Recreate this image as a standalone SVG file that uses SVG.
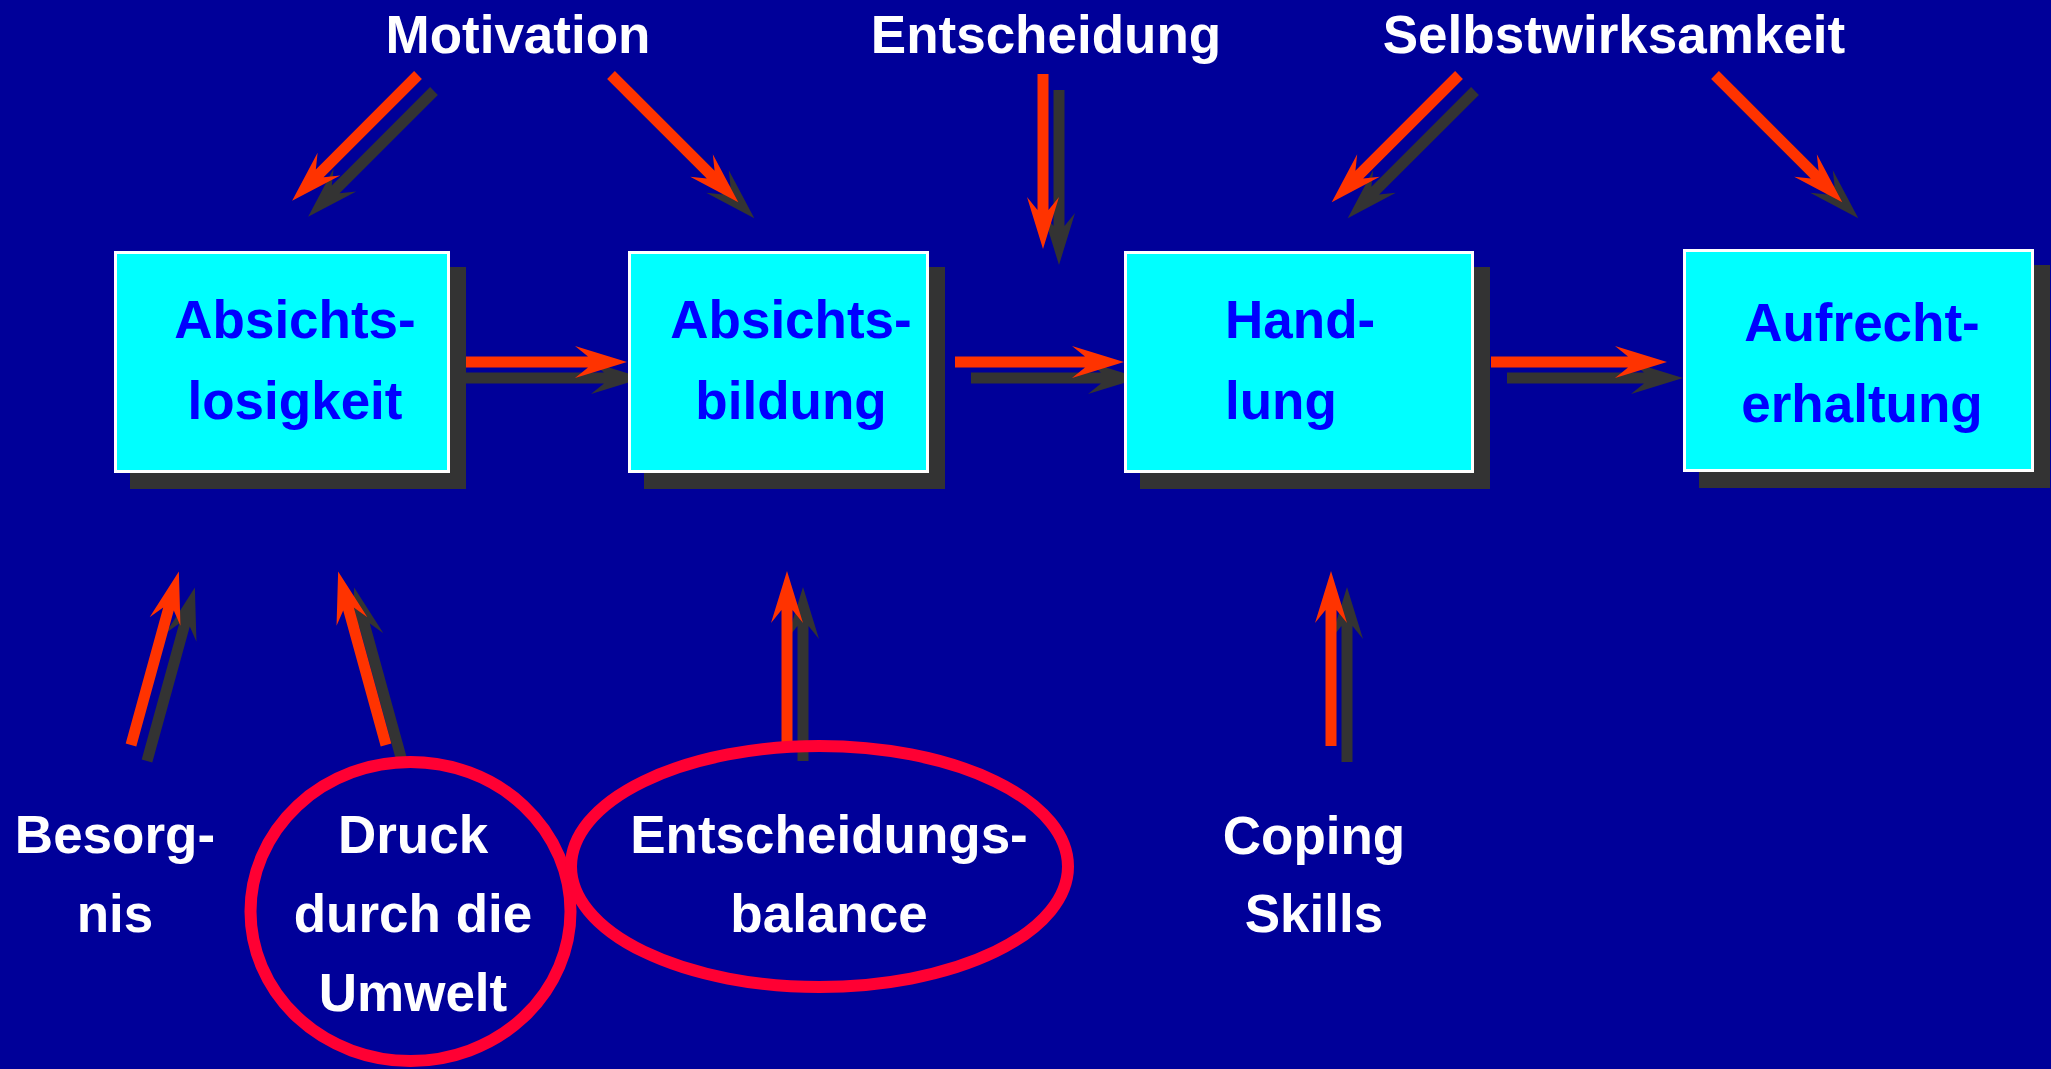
<svg xmlns="http://www.w3.org/2000/svg" width="2051" height="1069" viewBox="0 0 2051 1069">
<style>
.bg{fill:#000099}
.ar{fill:#FF3300}
.sh{fill:#333333}
.box{fill:#00FFFF;stroke:#FFFFFF;stroke-width:3}
.bsh{fill:#333333}
.bt{font-family:"Liberation Sans",Arial,sans-serif;font-weight:bold;font-size:53px;fill:#0000FF}
.wt{font-family:"Liberation Sans",Arial,sans-serif;font-weight:bold;font-size:53px;fill:#FFFFFF;text-anchor:middle}
.ell{fill:none;stroke:#FF0033;stroke-width:12}
</style>
<rect class="bg" x="0" y="0" width="2051" height="1069"/>

<g id="connectors">
  <g class="sh">
    <polygon transform="translate(434,91) rotate(135)" points="0,-5.5 139,-5.5 126,-16 178,0 126,16 139,5.5 0,5.5"/>
    <polygon transform="translate(627,91) rotate(45)" points="0,-5.5 141,-5.5 128,-16 180,0 128,16 141,5.5 0,5.5"/>
    <polygon transform="translate(1059,90) rotate(90)" points="0,-5.5 136,-5.5 123,-16 175,0 123,16 136,5.5 0,5.5"/>
    <polygon transform="translate(1475,91) rotate(135)" points="0,-5.5 141,-5.5 128,-16 180,0 128,16 141,5.5 0,5.5"/>
    <polygon transform="translate(1731,91) rotate(45)" points="0,-5.5 141,-5.5 128,-16 180,0 128,16 141,5.5 0,5.5"/>
    <polygon transform="translate(466,378)" points="0,-5.5 138,-5.5 125,-16 177,0 125,16 138,5.5 0,5.5"/>
    <polygon transform="translate(971,378)" points="0,-5.5 130,-5.5 117,-16 169,0 117,16 130,5.5 0,5.5"/>
    <polygon transform="translate(1507,378)" points="0,-5.5 137,-5.5 124,-16 176,0 124,16 137,5.5 0,5.5"/>
    <polygon transform="translate(147,761) rotate(-74.58)" points="0,-5.5 141,-5.5 128,-16 180,0 128,16 141,5.5 0,5.5"/>
    <polygon transform="translate(402,761) rotate(-105.42)" points="0,-5.5 141,-5.5 128,-16 180,0 128,16 141,5.5 0,5.5"/>
    <polygon transform="translate(803,761) rotate(-90)" points="0,-5.5 135,-5.5 122,-16 174,0 122,16 135,5.5 0,5.5"/>
    <polygon transform="translate(1347,762) rotate(-90)" points="0,-5.5 136,-5.5 123,-16 175,0 123,16 136,5.5 0,5.5"/>
  </g>
  <g class="ar">
    <polygon transform="translate(418,75) rotate(135)" points="0,-5.5 139,-5.5 126,-16 178,0 126,16 139,5.5 0,5.5"/>
    <polygon transform="translate(611,75) rotate(45)" points="0,-5.5 141,-5.5 128,-16 180,0 128,16 141,5.5 0,5.5"/>
    <polygon transform="translate(1043,74) rotate(90)" points="0,-5.5 136,-5.5 123,-16 175,0 123,16 136,5.5 0,5.5"/>
    <polygon transform="translate(1459,75) rotate(135)" points="0,-5.5 141,-5.5 128,-16 180,0 128,16 141,5.5 0,5.5"/>
    <polygon transform="translate(1715,75) rotate(45)" points="0,-5.5 141,-5.5 128,-16 180,0 128,16 141,5.5 0,5.5"/>
    <polygon transform="translate(450,362)" points="0,-5.5 138,-5.5 125,-16 177,0 125,16 138,5.5 0,5.5"/>
    <polygon transform="translate(955,362)" points="0,-5.5 130,-5.5 117,-16 169,0 117,16 130,5.5 0,5.5"/>
    <polygon transform="translate(1491,362)" points="0,-5.5 137,-5.5 124,-16 176,0 124,16 137,5.5 0,5.5"/>
    <polygon transform="translate(131,745) rotate(-74.58)" points="0,-5.5 141,-5.5 128,-16 180,0 128,16 141,5.5 0,5.5"/>
    <polygon transform="translate(386,745) rotate(-105.42)" points="0,-5.5 141,-5.5 128,-16 180,0 128,16 141,5.5 0,5.5"/>
    <polygon transform="translate(787,745) rotate(-90)" points="0,-5.5 135,-5.5 122,-16 174,0 122,16 135,5.5 0,5.5"/>
    <polygon transform="translate(1331,746) rotate(-90)" points="0,-5.5 136,-5.5 123,-16 175,0 123,16 136,5.5 0,5.5"/>
  </g>
</g>

<g id="node-absichtslosigkeit">
  <rect class="bsh" x="130" y="267" width="336" height="222"/>
  <rect class="box" x="115.5" y="252.5" width="333" height="219"/>
  <text class="bt" x="295" y="338" text-anchor="middle">Absichts-</text>
  <text class="bt" x="295" y="419" text-anchor="middle">losigkeit</text>
</g>
<g id="node-absichtsbildung">
  <rect class="bsh" x="644" y="267" width="301" height="222"/>
  <rect class="box" x="629.5" y="252.5" width="298" height="219"/>
  <text class="bt" x="791" y="338" text-anchor="middle">Absichts-</text>
  <text class="bt" x="791" y="419" text-anchor="middle">bildung</text>
</g>
<g id="node-handlung">
  <rect class="bsh" x="1140" y="267" width="350" height="222"/>
  <rect class="box" x="1125.5" y="252.5" width="347" height="219"/>
  <text class="bt" x="1225" y="338">Hand-</text>
  <text class="bt" x="1225" y="419">lung</text>
</g>
<g id="node-aufrechterhaltung">
  <rect class="bsh" x="1699" y="265" width="351" height="223"/>
  <rect class="box" x="1684.5" y="250.5" width="348" height="220"/>
  <text class="bt" x="1862" y="341" text-anchor="middle">Aufrecht-</text>
  <text class="bt" x="1862" y="422" text-anchor="middle">erhaltung</text>
</g>

<g id="label-motivation"><text class="wt" x="518" y="53">Motivation</text></g>
<g id="label-entscheidung"><text class="wt" x="1046" y="53">Entscheidung</text></g>
<g id="label-selbstwirksamkeit"><text class="wt" x="1614" y="53">Selbstwirksamkeit</text></g>

<g id="node-besorgnis">
  <text class="wt" x="115" y="853">Besorg-</text>
  <text class="wt" x="115" y="932">nis</text>
</g>
<g id="node-druck">
  <ellipse class="ell" cx="410.5" cy="911.5" rx="160" ry="149.5"/>
  <text class="wt" x="413" y="853">Druck</text>
  <text class="wt" x="413" y="932">durch die</text>
  <text class="wt" x="413" y="1011">Umwelt</text>
</g>
<g id="node-entscheidungsbalance">
  <ellipse class="ell" cx="819.5" cy="866.5" rx="248.5" ry="120.5"/>
  <text class="wt" x="829" y="853">Entscheidungs-</text>
  <text class="wt" x="829" y="932">balance</text>
</g>
<g id="node-coping">
  <text class="wt" x="1314" y="854">Coping</text>
  <text class="wt" x="1314" y="932">Skills</text>
</g>
</svg>
